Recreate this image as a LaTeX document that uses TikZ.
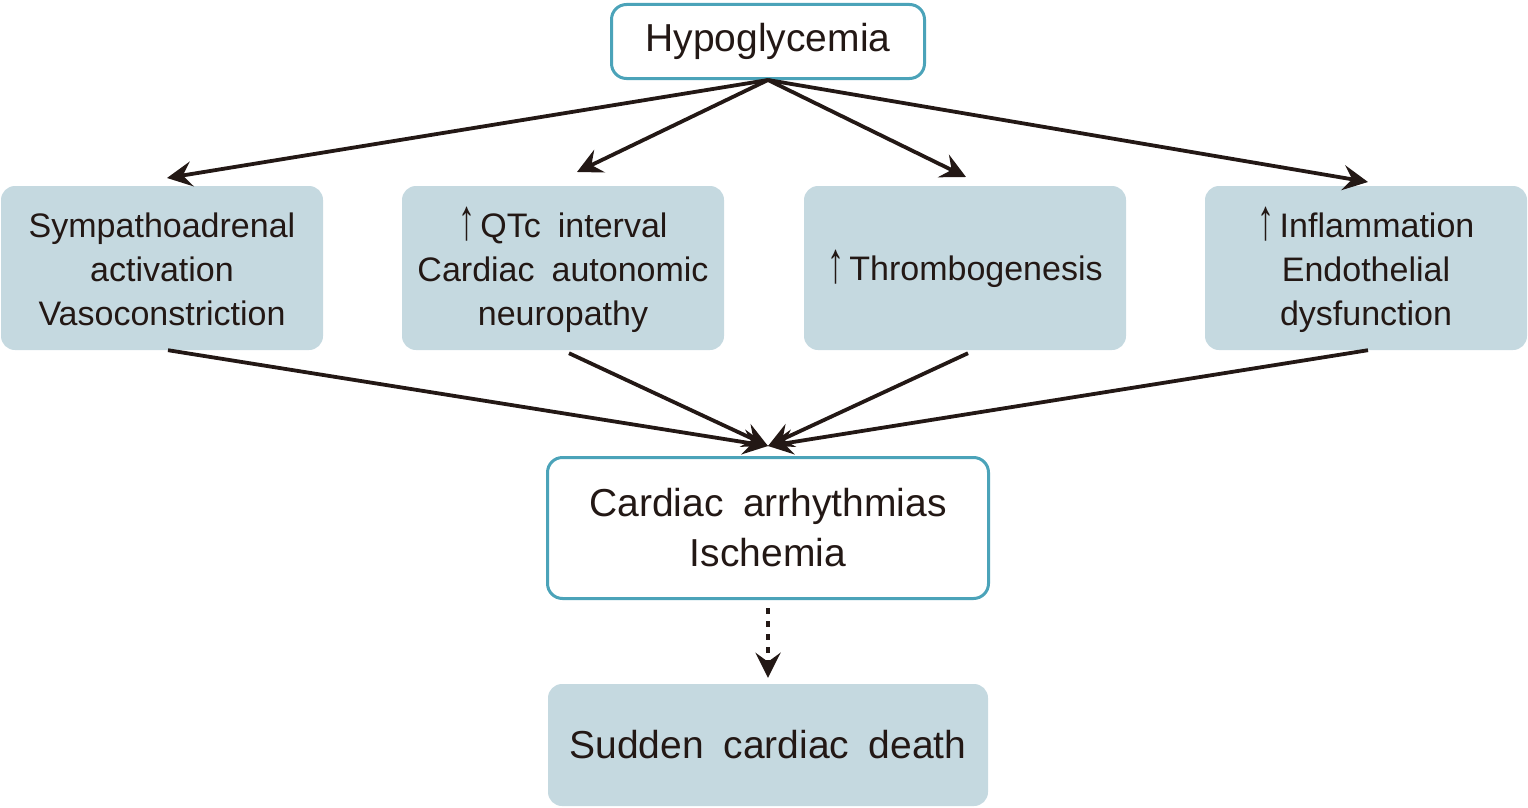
\documentclass[tikz,border=0pt]{standalone}
\usepackage{fontspec}
\setmainfont[WordSpace=1.8]{Liberation Sans}
\usetikzlibrary{arrows.meta,calc}
\definecolor{teal}{HTML}{4BA3B9}
\definecolor{boxfill}{HTML}{C5D9E0}
\definecolor{ink}{HTML}{231815}
\newcommand\upar{\smash{\raisebox{-2pt}{\scalebox{1}[1.7]{↑}}}\hspace{5pt}}
\newcommand\toppad[1]{\rule{0pt}{#1}}
\tikzset{
  keybox/.style={draw=teal, line width=3pt, fill=white, rounded corners=15pt, text=ink, align=center, inner sep=0pt},
  midbox/.style={fill=boxfill, rounded corners=14pt, minimum width=322pt, minimum height=164pt, text=ink, align=center, inner sep=0pt, font=\fontsize{34}{44}\selectfont},
  arr/.style={draw=ink, line width=3.8pt, -{Stealth[length=25pt,width=25pt,inset=9pt]}},
  dotarr/.style={draw=ink, line width=4pt, dash pattern=on 6pt off 7pt, -{Stealth[length=25pt,width=25pt,inset=9pt]}}
}
\begin{document}
\begin{tikzpicture}[x=1pt,y=-1pt]
\useasboundingbox (0,0) rectangle (1528,808);
\node[keybox, minimum width=313pt, minimum height=74pt, font=\fontsize{39}{46}\selectfont] (hypo) at (768,41.5) {Hypoglycemia};
\node[midbox] (b1) at (162,268) {\toppad{28pt}Sympathoadrenal\\activation\\Vasoconstriction};
\node[midbox] (b2) at (563,268) {\toppad{34pt}\upar QTc interval\\Cardiac autonomic\\neuropathy};
\node[midbox] (b3) at (965,268) {\toppad{33pt}\upar Thrombogenesis};
\node[midbox] (b4) at (1366,268) {\toppad{34pt}\upar Inflammation\\Endothelial\\dysfunction};
\node[keybox, minimum width=441pt, minimum height=141pt, font=\fontsize{39}{50}\selectfont] (card) at (768,528) {Cardiac arrhythmias\\Ischemia};
\node[fill=boxfill, rounded corners=14pt, minimum width=440pt, minimum height=122pt, text=ink, inner sep=0pt, font=\fontsize{39}{50}\selectfont] (death) at (768,745) {Sudden cardiac death};
% arrow tips and tails
\coordinate (t1) at (167,178);
\coordinate (t2) at (577,172);
\coordinate (t3) at (966,177);
\coordinate (t4) at (1368,182);
\coordinate (conv) at (768,446);
\draw[arr] (hypo.south) -- (t1);
\draw[arr] (hypo.south) -- (t2);
\draw[arr] (hypo.south) -- (t3);
\draw[arr] (hypo.south) -- (t4);
\draw[arr] ($(b1.south)+(6,0)$) -- (conv);
\draw[arr] ($(b2.south)+(6,3)$) -- (conv);
\draw[arr] ($(b3.south)+(3,3)$) -- (conv);
\draw[arr] ($(b4.south)+(2,0)$) -- (conv);
\draw[dotarr] ($(card.south)+(0,8)$) -- ($(death.north)+(0,-6)$);
\end{tikzpicture}
\end{document}
